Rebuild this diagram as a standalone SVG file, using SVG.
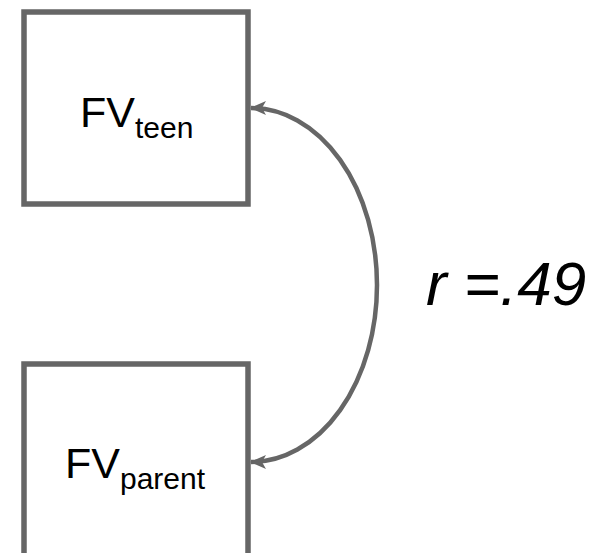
<svg xmlns="http://www.w3.org/2000/svg" width="599" height="553" viewBox="0 0 599 553">
<style>
.box{fill:#fff;stroke:#666;stroke-width:5.5}
.lbl{font-family:"Liberation Sans",Arial,sans-serif;fill:#000}
.conn{fill:none;stroke:#666;stroke-width:4.5}
</style>
<defs>
<marker id="ah" viewBox="0 0 16 14" refX="15" refY="7" markerWidth="16" markerHeight="14" markerUnits="userSpaceOnUse" orient="auto-start-reverse">
<path d="M0,0 L16,7 L0,14 L4,7 z" fill="#666"/>
</marker>
</defs>
<rect width="599" height="553" fill="#fff"/>
<g id="teen">
<rect class="box" x="24" y="12" width="224" height="192"/>
<text class="lbl" x="80" y="127" font-size="43">FV<tspan font-size="30" dy="11">teen</tspan></text>
</g>
<g id="parent">
<rect class="box" x="24" y="364" width="224" height="220"/>
<text class="lbl" x="65" y="478" font-size="43">FV<tspan font-size="30" dy="11">parent</tspan></text>
</g>
<g id="connectors">
<path class="conn" d="M 251 108 A 126 177 0 0 1 251 462" marker-start="url(#ah)" marker-end="url(#ah)"/>
</g>
<g id="label">
<text class="lbl" x="426" y="305" font-size="62" font-style="italic">r =.49</text>
</g>
</svg>
